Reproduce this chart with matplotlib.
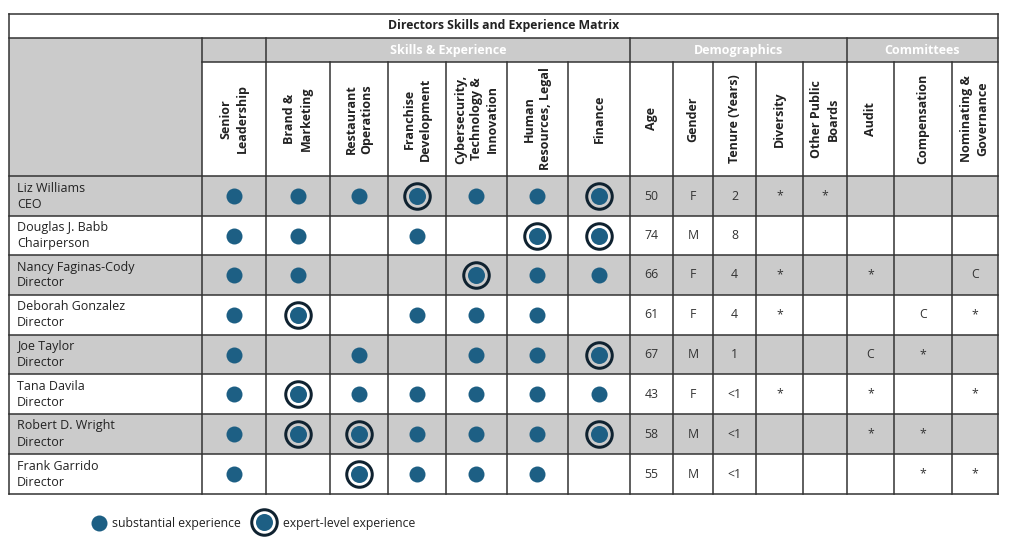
import matplotlib.pyplot as plt
from matplotlib.patches import Rectangle

plt.rcParams['font.family'] = ['Open Sans', 'DejaVu Sans']

# --- data ---
directors = ["Liz Williams", "Douglas J. Babb", "Nancy Faginas-Cody", "Deborah Gonzalez",
             "Joe Taylor", "Tana Davila", "Robert D. Wright", "Frank Garrido"]
roles = ["CEO", "Chairperson", "Director", "Director",
         "Director", "Director", "Director", "Director"]

skill_labels = ["Senior\nLeadership", "Brand &\nMarketing", "Restaurant\nOperations",
                "Franchise\nDevelopment", "Cybersecurity,\nTechnology &\nInnovation",
                "Human\nResources, Legal", "Finance"]
# 0 = none, 1 = substantial, 2 = expert-level
skills = [
    [1, 1, 1, 2, 1, 1, 2],
    [1, 1, 0, 1, 0, 2, 2],
    [1, 1, 0, 0, 2, 1, 1],
    [1, 2, 0, 1, 1, 1, 0],
    [1, 0, 1, 0, 1, 1, 2],
    [1, 2, 1, 1, 1, 1, 1],
    [1, 2, 2, 1, 1, 1, 2],
    [1, 0, 2, 1, 1, 1, 0],
]

demo_labels = ["Age", "Gender", "Tenure (Years)", "Diversity", "Other Public\nBoards"]
age = ["50", "74", "66", "61", "67", "43", "58", "55"]
gender = ["F", "M", "F", "F", "M", "F", "M", "M"]
tenure = ["2", "8", "4", "4", "1", "<1", "<1", "<1"]
diversity = ["*", "", "*", "*", "", "*", "", ""]
other_boards = ["*", "", "", "", "", "", "", ""]

comm_labels = ["Audit", "Compensation", "Nominating &\nGovernance"]
audit = ["", "", "*", "", "C", "*", "*", ""]
compensation = ["", "", "", "C", "*", "", "*", "*"]
nominating = ["", "", "C", "*", "", "*", "", "*"]

groups = ["Skills & Experience", "Demographics", "Committees"]

# --- layout (pixel grid) ---
col_edges = [9, 202, 266, 330, 388, 446, 507, 568, 630, 673, 713, 756, 803, 847, 894, 952, 998]
row_edges = [176, 216, 255, 295, 335, 374, 414, 454, 494]
top, title_bot, group_bot = 14, 38, 62
group_spans = [(266, 630), (630, 847), (847, 998)]

GRAY = "#cbcbcb"
LINE = "#333333"
BLUE = "#1d5f84"
NAVY = "#0f2230"
TXT = "#222222"
lw = 1.1

fig = plt.figure(figsize=(10.19, 5.41), dpi=100)
ax = fig.add_axes([0, 0, 1, 1])
ax.set_xlim(0, 1019)
ax.set_ylim(541, 0)
ax.axis("off")

# backgrounds
ax.add_patch(Rectangle((col_edges[0], title_bot), col_edges[1] - col_edges[0],
                       row_edges[0] - title_bot, color=GRAY, lw=0))
ax.add_patch(Rectangle((col_edges[1], title_bot), col_edges[-1] - col_edges[1],
                       group_bot - title_bot, color=GRAY, lw=0))
for i in range(len(directors)):
    if i % 2 == 0:
        ax.add_patch(Rectangle((col_edges[0], row_edges[i]), col_edges[-1] - col_edges[0],
                               row_edges[i + 1] - row_edges[i], color=GRAY, lw=0))

# lines
L, R = col_edges[0], col_edges[-1]
bottom = row_edges[-1]
ax.plot([L, R], [top, top], color=LINE, lw=lw)
ax.plot([L, R], [title_bot, title_bot], color=LINE, lw=lw)
ax.plot([col_edges[1], R], [group_bot, group_bot], color=LINE, lw=lw)
for y in row_edges:
    ax.plot([L, R], [y, y], color=LINE, lw=lw)
ax.plot([L, L], [top, bottom], color=LINE, lw=lw)
ax.plot([R, R], [top, bottom], color=LINE, lw=lw)
ax.plot([col_edges[1], col_edges[1]], [title_bot, bottom], color=LINE, lw=lw)
for x in [266, 630, 847]:
    ax.plot([x, x], [title_bot, group_bot], color=LINE, lw=lw)
for x in col_edges[2:-1]:
    ax.plot([x, x], [group_bot, bottom], color=LINE, lw=lw)

# title and group headers
ax.text((L + R) / 2, (top + title_bot) / 2, "Directors Skills and Experience Matrix",
        ha="center", va="center", fontsize=8.8, fontweight="bold", color=TXT)
for g, (a, b) in zip(groups, group_spans):
    ax.text((a + b) / 2, (title_bot + group_bot) / 2 + 0.5, g, ha="center", va="center",
            fontsize=9, fontweight="bold", color="white")

# column headers
headers = skill_labels + demo_labels + comm_labels
centers = [(col_edges[j] + col_edges[j + 1]) / 2 for j in range(1, len(col_edges) - 1)]
for cx, lab in zip(centers, headers):
    ax.text(cx, (group_bot + row_edges[0]) / 2, lab, rotation=90, ha="center", va="center",
            multialignment="center", fontsize=9, fontweight="bold", color=TXT, linespacing=1.3)

# names
for i, (n, r) in enumerate(zip(directors, roles)):
    cy = (row_edges[i] + row_edges[i + 1]) / 2
    ax.text(17, cy - 8, n, ha="left", va="center", fontsize=9, color=TXT)
    ax.text(17, cy + 8, r, ha="left", va="center", fontsize=9, color=TXT)

# skill dots
row_c = [(row_edges[i] + row_edges[i + 1]) / 2 for i in range(len(directors))]
px = 0.72  # points per pixel
for i, row in enumerate(skills):
    bg = GRAY if i % 2 == 0 else "white"
    for j, v in enumerate(row):
        cx = centers[j]
        if v == 2:
            ax.scatter([cx], [row_c[i]], s=(25.5 * px) ** 2, facecolor=bg,
                       edgecolor=NAVY, linewidths=3 * px, zorder=3)
            ax.scatter([cx], [row_c[i]], s=(17 * px) ** 2, color=BLUE, lw=0, zorder=4)
        elif v == 1:
            ax.scatter([cx], [row_c[i]], s=(16 * px) ** 2, color=BLUE, lw=0, zorder=4)

# demographics and committees text
text_cols = [age, gender, tenure, diversity, other_boards, audit, compensation, nominating]
for k, col in enumerate(text_cols):
    cx = centers[len(skill_labels) + k]
    for i, v in enumerate(col):
        if v:
            ax.text(cx, row_c[i], v, ha="center", va="center", fontsize=8.8, color="#333333")

# legend
ax.scatter([99], [523], s=(16 * px) ** 2, color=BLUE, lw=0)
ax.text(112, 523, "substantial experience", ha="left", va="center", fontsize=8.8, color=TXT)
ax.scatter([264], [522], s=(25.5 * px) ** 2, facecolor="white", edgecolor=NAVY,
           linewidths=3 * px, zorder=3)
ax.scatter([264], [522], s=(17 * px) ** 2, color=BLUE, lw=0, zorder=4)
ax.text(283, 523, "expert-level experience", ha="left", va="center", fontsize=8.8, color=TXT)

fig.savefig("out.png", dpi=100)
